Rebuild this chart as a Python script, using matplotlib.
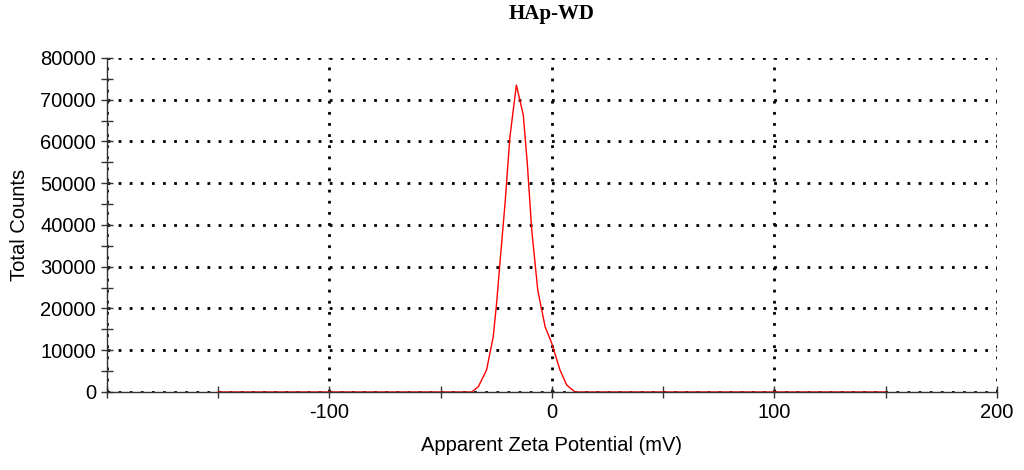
import numpy as np
import matplotlib.pyplot as plt
from matplotlib.ticker import MultipleLocator, FuncFormatter

# Distribución de potencial zeta (muestra HAp-WD)
zeta_mv = [-150, -40, -36.1, -33.1, -29.4, -26.4, -24.9, -23.4, -21.1, -18.9, -16.0,
           -12.9, -11.1, -9.1, -6.4, -3.1, -0.1, 3.6, 6.6, 10.3, 150]
conteos = [0, 0, 0, 1270, 5270, 13250, 21240, 30830, 45200, 61150, 73500,
           66350, 54780, 38800, 24430, 15640, 11660, 5270, 1680, 0, 0]

titulo = "HAp-WD"
etiqueta_x = "Apparent Zeta Potential (mV)"
etiqueta_y = "Total Counts"

plt.rcParams["axes.unicode_minus"] = False

fig = plt.figure(figsize=(10.24, 4.70), dpi=100)
ax = fig.add_axes([0.1045, 0.166, 0.8691, 0.7106])

ax.plot(zeta_mv, conteos, color="red", linewidth=1.0)

ax.set_xlim(-200, 200)
ax.set_ylim(0, 80000)
ax.xaxis.set_major_locator(MultipleLocator(100))
ax.xaxis.set_minor_locator(MultipleLocator(50))
ax.yaxis.set_major_locator(MultipleLocator(10000))
ax.yaxis.set_minor_locator(MultipleLocator(5000))
# el extremo izquierdo (-200) va sin etiqueta
ax.xaxis.set_major_formatter(FuncFormatter(lambda v, p: "" if v <= -200 else "%d" % v))

ax.grid(True, which="major", color="black", linestyle=(0, (1, 3)), linewidth=2.0)
ax.set_axisbelow(True)

for lado in ["top", "right"]:
    ax.spines[lado].set_visible(False)
for lado in ["left", "bottom"]:
    ax.spines[lado].set_color("#333333")
    ax.spines[lado].set_linewidth(1.0)

ax.tick_params(which="both", direction="inout", color="#333333", width=1.0)
ax.tick_params(which="major", length=8, labelsize=14.5, pad=4)
ax.tick_params(which="minor", length=8)

fuente = "Liberation Sans"
for lbl in ax.get_xticklabels() + ax.get_yticklabels():
    lbl.set_fontfamily(fuente)

ax.set_xlabel(etiqueta_x, fontsize=14.5, family=fuente, labelpad=10)
ax.set_ylabel(etiqueta_y, fontsize=14.5, family=fuente, labelpad=8)
ax.set_title(titulo, fontsize=15, family="Liberation Serif", fontweight="bold", pad=28)

fig.savefig("out.png", dpi=100)
